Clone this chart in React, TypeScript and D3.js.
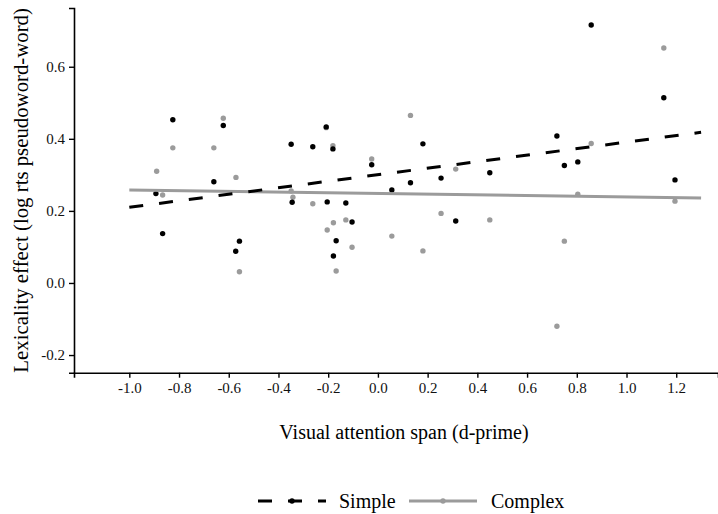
import React, { useEffect, useRef } from 'react'
import * as d3 from 'd3'

const WIDTH = 718
const HEIGHT = 514
const LEFT = 74
const RIGHT = 718
const TOP = 8
const BOTTOM = 372.7
const FONT = '"Liberation Serif", "Times New Roman", serif'
const GREY = '#9b9b9b'

// d-prime per subject (same x for both conditions)
const simpleX = [-0.893, -0.866, -0.825, -0.66, -0.622, -0.572, -0.557, -0.349, -0.345, -0.262,
  -0.208, -0.204, -0.181, -0.168, -0.179, -0.129, -0.104, -0.025, 0.056, 0.131,
  0.181, 0.254, 0.313, 0.45, 0.72, 0.75, 0.804, 0.858, 1.15, 1.195]
const simpleY = [0.248, 0.137, 0.453, 0.281, 0.437, 0.088, 0.116, 0.385, 0.224, 0.378,
  0.433, 0.225, 0.372, 0.117, 0.075, 0.222, 0.169, 0.328, 0.258, 0.278,
  0.386, 0.291, 0.172, 0.306, 0.408, 0.326, 0.336, 0.716, 0.514, 0.286]

const complexX = [-0.89, -0.866, -0.825, -0.66, -0.622, -0.571, -0.557, -0.349, -0.342, -0.262,
  -0.208, -0.204, -0.181, -0.168, -0.179, -0.129, -0.104, -0.025, 0.056, 0.131,
  0.181, 0.254, 0.313, 0.45, 0.72, 0.75, 0.804, 0.858, 1.15, 1.195]
const complexY = [0.31, 0.244, 0.375, 0.375, 0.457, 0.293, 0.031, 0.255, 0.238, 0.22,
  0.431, 0.147, 0.381, 0.033, 0.167, 0.175, 0.099, 0.344, 0.13, 0.465,
  0.089, 0.193, 0.316, 0.175, -0.12, 0.116, 0.246, 0.387, 0.652, 0.227]

// fitted lines (end points)
const fitX = [-1.0, 1.3]
const simpleFit = [0.21, 0.418]
const complexFit = [0.258, 0.236]

const xTicks = [-1.0, -0.8, -0.6, -0.4, -0.2, 0.0, 0.2, 0.4, 0.6, 0.8, 1.0, 1.2]
const yTicks = [-0.2, 0.0, 0.2, 0.4, 0.6]

export default function App() {
  const ref = useRef<SVGSVGElement>(null)

  useEffect(() => {
    const svg = d3.select(ref.current)
    svg.selectAll('*').remove()

    const x = d3.scaleLinear().domain([-1.2225, 1.368]).range([LEFT, RIGHT])
    const y = d3.scaleLinear().domain([-0.249, 0.763]).range([BOTTOM, TOP])

    const line = d3.line<[number, number]>().x(d => x(d[0])).y(d => y(d[1]))

    const series = [
      { name: 'Simple', xs: simpleX, ys: simpleY, fit: simpleFit, color: '#000', dash: '14 16' },
      { name: 'Complex', xs: complexX, ys: complexY, fit: complexFit, color: GREY, dash: null },
    ]

    // points first, complex under simple
    ;[series[1], series[0]].forEach(s => {
      svg.append('g')
        .selectAll('circle')
        .data(s.xs.map((v, i) => [v, s.ys[i]] as [number, number]))
        .join('circle')
          .attr('cx', d => x(d[0]))
          .attr('cy', d => y(d[1]))
          .attr('r', 2.7)
          .attr('fill', s.color)
    })

    ;[series[1], series[0]].forEach(s => {
      svg.append('path')
        .datum(fitX.map((v, i) => [v, s.fit[i]] as [number, number]))
        .attr('d', line)
        .attr('fill', 'none')
        .attr('stroke', s.color)
        .attr('stroke-width', 3)
        .attr('stroke-dasharray', s.dash)
    })

    const xAxis = svg.append('g')
      .attr('transform', `translate(0, ${BOTTOM})`)
      .call(d3.axisBottom(x).tickValues(xTicks).tickFormat(d => (+d).toFixed(1)).tickSizeOuter(0).tickSize(5).tickPadding(5))
    const yAxis = svg.append('g')
      .attr('transform', `translate(${LEFT}, 0)`)
      .call(d3.axisLeft(y).tickValues(yTicks).tickFormat(d => (+d).toFixed(1)).tickSizeOuter(0).tickSize(5).tickPadding(4))

    ;[xAxis, yAxis].forEach(a => {
      a.select('.domain').attr('stroke', '#000').attr('stroke-width', 1.6)
      a.selectAll('.tick line').attr('stroke', '#000').attr('stroke-width', 1.4)
      a.selectAll('.tick text')
        .attr('fill', '#111')
        .style('font-family', FONT)
        .style('font-size', '15px')
    })

    svg.append('text')
      .attr('x', (LEFT + RIGHT) / 2 + 8)
      .attr('y', 439)
      .attr('text-anchor', 'middle')
      .style('font-family', FONT)
      .style('font-size', '20px')
      .text('Visual attention span (d-prime)')

    svg.append('text')
      .attr('transform', `translate(28, ${(TOP + BOTTOM) / 2}) rotate(-90)`)
      .attr('text-anchor', 'middle')
      .style('font-family', FONT)
      .style('font-size', '20.8px')
      .text('Lexicality effect (log rts pseudoword-word)')

    // legend
    const legendY = 501
    const keys = [
      { s: series[0], x0: 258, tx: 339 },
      { s: series[1], x0: 409, tx: 491 },
    ]
    keys.forEach(({ s, x0, tx }) => {
      svg.append('line')
        .attr('x1', x0).attr('x2', x0 + 68)
        .attr('y1', legendY).attr('y2', legendY)
        .attr('stroke', s.color)
        .attr('stroke-width', 3)
        .attr('stroke-dasharray', s.dash)
      svg.append('circle')
        .attr('cx', x0 + 34).attr('cy', legendY)
        .attr('r', 2.7)
        .attr('fill', s.color)
      svg.append('text')
        .attr('x', tx)
        .attr('y', legendY + 7)
        .style('font-family', FONT)
        .style('font-size', '20px')
        .text(s.name)
    })
  }, [])

  return (
    <svg ref={ref} width={WIDTH} height={HEIGHT}
      style={{ position: 'absolute', left: 0, top: 0, background: '#fff' }} />
  )
}
